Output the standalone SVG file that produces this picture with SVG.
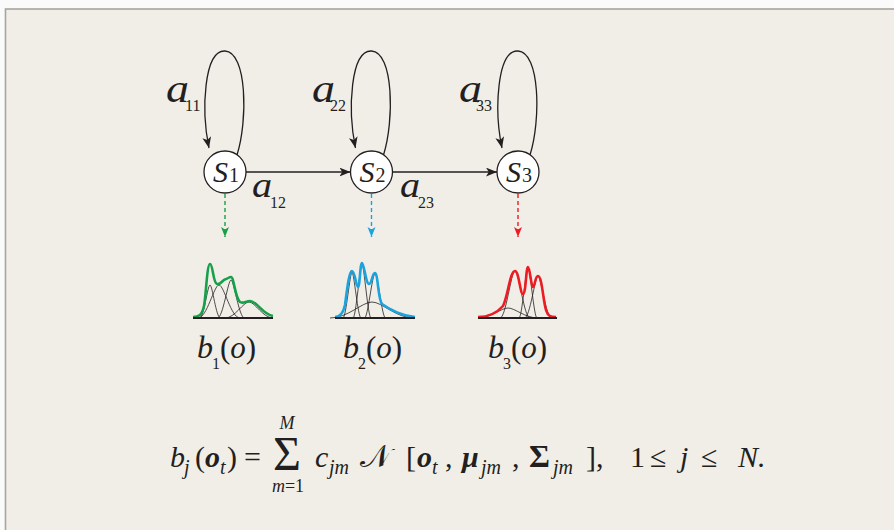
<svg xmlns="http://www.w3.org/2000/svg" width="894" height="530" viewBox="0 0 894 530">
<defs>
<style>
.serif{font-family:"Liberation Serif","Times New Roman",serif;fill:#231f20}
.it{font-style:italic}
.bd{font-weight:bold}
.node{fill:#fff;stroke:#231f20;stroke-width:1.3}
.edge{fill:none;stroke:#231f20;stroke-width:1.3}
.comp{fill:none;stroke:#231f20;stroke-width:0.8}
.base{stroke:#231f20;stroke-width:2}
.sum{fill:none;stroke-width:2.6;stroke-linejoin:round}
</style>
<marker id="ah" viewBox="0 0 10 8" refX="10" refY="4" markerWidth="11" markerHeight="9" markerUnits="userSpaceOnUse" orient="auto">
<path d="M0,0 L10,4 L0,8 L2.5,4 z" fill="#231f20"/>
</marker>
<marker id="ahg" viewBox="0 0 10 8" refX="10" refY="4" markerWidth="10" markerHeight="9" markerUnits="userSpaceOnUse" orient="auto">
<path d="M0,0 L10,4 L0,8 L2.5,4 z" fill="#16a049"/>
</marker>
<marker id="ahb" viewBox="0 0 10 8" refX="10" refY="4" markerWidth="10" markerHeight="9" markerUnits="userSpaceOnUse" orient="auto">
<path d="M0,0 L10,4 L0,8 L2.5,4 z" fill="#1ba3e0"/>
</marker>
<marker id="ahr" viewBox="0 0 10 8" refX="10" refY="4" markerWidth="10" markerHeight="9" markerUnits="userSpaceOnUse" orient="auto">
<path d="M0,0 L10,4 L0,8 L2.5,4 z" fill="#ed1c24"/>
</marker>
</defs>
<rect x="0" y="0" width="894" height="530" fill="#fafafa"/>
<rect x="5.5" y="9" width="900" height="530" fill="#f1eee8" stroke="#a8a49f" stroke-width="1.6"/>

<g id="connectors">
<path class="edge" marker-end="url(#ah)" transform="translate(225,172)" d="M12,-17 C23,-52 22,-120 0,-121 C-21,-122 -24,-62 -16,-24"/>
<path class="edge" marker-end="url(#ah)" transform="translate(371.5,172)" d="M12,-17 C23,-52 22,-120 0,-121 C-21,-122 -24,-62 -16,-24"/>
<path class="edge" marker-end="url(#ah)" transform="translate(518,172)" d="M12,-17 C23,-52 22,-120 0,-121 C-21,-122 -24,-62 -16,-24"/>
<line class="edge" x1="246" y1="172" x2="350.5" y2="172" marker-end="url(#ah)"/>
<line class="edge" x1="392.5" y1="172" x2="497" y2="172" marker-end="url(#ah)"/>
<line x1="225" y1="194" x2="225" y2="237" stroke="#16a049" stroke-width="1.4" stroke-dasharray="4,3" marker-end="url(#ahg)"/>
<line x1="371.5" y1="194" x2="371.5" y2="237" stroke="#1ba3e0" stroke-width="1.4" stroke-dasharray="4,3" marker-end="url(#ahb)"/>
<line x1="518" y1="194" x2="518" y2="237" stroke="#ed1c24" stroke-width="1.4" stroke-dasharray="4,3" marker-end="url(#ahr)"/>
<text class="serif it" transform="translate(166,102) scale(1.15,1)" font-size="40">a</text>
<text class="serif" x="185" y="111" font-size="16">11</text>
<text class="serif it" transform="translate(312,102) scale(1.15,1)" font-size="40">a</text>
<text class="serif" x="330" y="111" font-size="16">22</text>
<text class="serif it" transform="translate(459,102) scale(1.15,1)" font-size="40">a</text>
<text class="serif" x="476" y="111" font-size="16">33</text>
<text class="serif it" transform="translate(252,197) scale(1.12,1)" font-size="36">a</text>
<text class="serif" x="270" y="208" font-size="16">12</text>
<text class="serif it" transform="translate(400,197) scale(1.12,1)" font-size="36">a</text>
<text class="serif" x="418" y="208" font-size="16">23</text>
</g>

<g id="S1" transform="translate(225,172)">
<circle class="node" cx="0" cy="0" r="21"/>
<text class="serif it" x="-12" y="10" font-size="30">S</text>
<text class="serif" x="4" y="10" font-size="20">1</text>
</g>
<g id="S2" transform="translate(371.5,172)">
<circle class="node" cx="0" cy="0" r="21"/>
<text class="serif it" x="-12" y="10" font-size="30">S</text>
<text class="serif" x="4" y="10" font-size="20">2</text>
</g>
<g id="S3" transform="translate(518,172)">
<circle class="node" cx="0" cy="0" r="21"/>
<text class="serif it" x="-12" y="10" font-size="30">S</text>
<text class="serif" x="4" y="10" font-size="20">3</text>
</g>

<g id="b1">
<path class="comp" d="M199.5,318 C204,318 207.5,285 210,285 C212.5,285 216,318 220.5,318"/>
<path class="comp" d="M198,318 C207,318 214,285 219,285 C224,285 231,318 240,318"/>
<path class="comp" d="M217.5,318 C223,318 228,280 231,280 C234,280 239,318 244.5,318"/>
<path class="comp" d="M225,318 C235,318 243,302 249,302 C255,302 263,318 273,318"/>
<path class="sum" stroke="#16a049" d="M193,317 C199,317 202,315 204,306 C206,296 207,264 210,264 C213,264 213,283 217,284 C221,285 222,280 226,279 C229,278 229,277 231,277 C234,277 235,298 240,302 C243,304 246,301 250,301 C257,301 262,314 273,316"/>
<line class="base" x1="193" y1="318" x2="273" y2="318"/>
<text class="serif it" x="197" y="358" font-size="32">b</text>
<text class="serif" x="212" y="369" font-size="16">1</text>
<text class="serif" x="220" y="358" font-size="31">(<tspan class="it">o</tspan>)</text>
</g>

<g id="b2">
<path class="comp" d="M343,318 C346,318 350,272 352,272 C354,272 358,318 361,318"/>
<path class="comp" d="M353,318 C356,318 360,264 362,264 C364,264 368,318 371,318"/>
<path class="comp" d="M364.5,318 C368,318 372,274 375,274 C378,274 382,318 385.5,318"/>
<path class="comp" d="M330,318 C348,318 362,302 372,302 C382,302 396,318 414,318"/>
<path class="sum" stroke="#1ba3e0" d="M335,317 C340,317 343,314 345,305 C347,290 349,271 352,271 C355,271 356,287 358,287 C360,287 360,263 362,263 C364,263 366,284 369,284 C372,284 372,273 375,273 C378,273 378,300 382,304 C390,310 403,316 415,317"/>
<line class="base" x1="335" y1="318" x2="415" y2="318"/>
<text class="serif it" x="343" y="358" font-size="32">b</text>
<text class="serif" x="358" y="369" font-size="16">2</text>
<text class="serif" x="366" y="358" font-size="31">(<tspan class="it">o</tspan>)</text>
</g>

<g id="b3">
<path class="comp" d="M478,318 C491,318 501,308 508,308 C515,308 525,318 538,318"/>
<path class="comp" d="M500,318 C506,318 511,271 515,271 C519,271 524,318 530,318"/>
<path class="comp" d="M519,318 C522,318 526,267 528,267 C530,267 534,318 537,318"/>
<path class="comp" d="M524.5,318 C530,318 535,276 538,276 C541,276 546,318 551.5,318"/>
<path class="sum" stroke="#ed1c24" d="M478,317 C488,317 496,314 503,306 C508,296 510,271 515,271 C519,271 520,294 523,294 C526,294 526,267 528,267 C530,267 531,287 533,287 C535,287 535,276 538,276 C542,276 543,300 546,310 C548,316 550,317 556,317"/>
<line class="base" x1="478" y1="318" x2="557" y2="318"/>
<text class="serif it" x="488" y="358" font-size="32">b</text>
<text class="serif" x="503" y="369" font-size="16">3</text>
<text class="serif" x="511" y="358" font-size="31">(<tspan class="it">o</tspan>)</text>
</g>

<g id="formula" class="serif" font-size="30">
<text class="it" x="170" y="467">b</text>
<text class="it" x="184" y="474" font-size="20">j</text>
<text x="195" y="467">(</text>
<text class="it bd" x="205" y="467">o</text>
<text class="it" x="220" y="474" font-size="20">t</text>
<text x="227" y="467">)</text>
<text x="244" y="467">=</text>
<text x="287" y="470" font-size="48" text-anchor="middle">Σ</text>
<text class="it" x="287" y="429" font-size="18" text-anchor="middle">M</text>
<text x="288" y="492" font-size="18" text-anchor="middle"><tspan class="it">m</tspan>=1</text>
<text class="it" x="315" y="467">c</text>
<text class="it" x="329" y="474" font-size="20">jm</text>
<text x="360" y="467" font-size="32" font-family="'DejaVu Serif','DejaVu Sans',serif">𝒩</text>
<text x="406" y="467">[</text>
<text class="it bd" x="417" y="467">o</text>
<text class="it" x="432" y="474" font-size="20">t</text>
<text x="445" y="467">,</text>
<text class="it bd" x="462" y="467">μ</text>
<text class="it" x="481" y="474" font-size="20">jm</text>
<text x="512" y="467">,</text>
<text class="bd" x="529" y="467" font-size="32">Σ</text>
<text class="it" x="553" y="474" font-size="20">jm</text>
<text x="586" y="467">],</text>
<text x="630" y="467">1</text>
<text x="650" y="467">≤</text>
<text class="it" x="680" y="467">j</text>
<text x="701" y="467">≤</text>
<text class="it" x="738" y="467">N.</text>
</g>
</svg>
